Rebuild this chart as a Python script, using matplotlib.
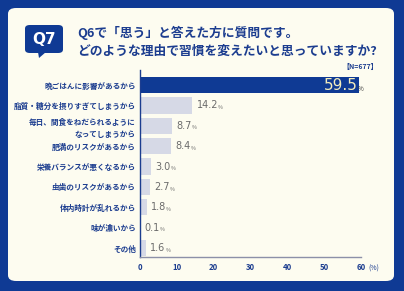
import matplotlib
matplotlib.use("Agg")
import matplotlib.pyplot as plt
from matplotlib.patches import FancyBboxPatch, Polygon
import numpy as np

plt.rcParams['font.family'] = ['Noto Sans CJK JP', 'DejaVu Sans']

categories = ['晩ごはんに影響があるから', '脂質・糖分を摂りすぎてしまうから',
              '毎日、間食をねだられるように\nなってしまうから', '肥満のリスクがあるから',
              '栄養バランスが悪くなるから', '虫歯のリスクがあるから',
              '体内時計が乱れるから', '味が濃いから', 'その他']
values = [59.5, 14.2, 8.7, 8.4, 3.0, 2.7, 1.8, 0.1, 1.6]
xticks = [0, 10, 20, 30, 40, 50, 60]

navy = '#0f3a94'
cream = '#fdfcf0'
text_blue = '#1c3d8f'
grey_bar = '#d6d9e6'
grey_txt = '#6b6b6b'

W, H = 404, 291
fig = plt.figure(figsize=(W / 100, H / 100), dpi=100)
fig.patch.set_facecolor(navy)

# cream card
card = FancyBboxPatch((8 / W, 1 - 281 / H), (394 - 8) / W, (281 - 8) / H,
                      boxstyle='round,pad=0,rounding_size=0.02',
                      transform=fig.transFigure, facecolor=cream, edgecolor='none', zorder=-5)
fig.patches.append(card)

# Q7 badge
badge = FancyBboxPatch((25 / W, 1 - 53 / H), 38 / W, 28 / H,
                       boxstyle='round,pad=0,rounding_size=0.012',
                       transform=fig.transFigure, facecolor=navy, edgecolor='none', zorder=-4)
fig.patches.append(badge)
tail = Polygon([(38 / W, 1 - 52 / H), (46 / W, 1 - 52 / H), (39 / W, 1 - 58 / H)],
               closed=True, transform=fig.transFigure, facecolor=navy, edgecolor='none', zorder=-4)
fig.patches.append(tail)
fig.text(44 / W, 1 - 39 / H, 'Q7', color='white', fontsize=11, fontweight='bold',
         ha='center', va='center', family=['DejaVu Sans'])

fig.text(77 / W, 1 - 33 / H, 'Q6で「思う」と答えた方に質問です。', color=text_blue,
         fontsize=9.2, fontweight='bold', ha='left', va='center')
fig.text(77 / W, 1 - 51 / H, 'どのような理由で習慣を変えたいと思っていますか?', color=text_blue,
         fontsize=9.2, fontweight='bold', ha='left', va='center')
fig.text(378 / W, 1 - 66 / H, '【N=677】', color=text_blue, fontsize=5,
         fontweight='bold', ha='right', va='center')

ax = fig.add_axes([140 / W, 1 - 257 / H, (361 - 140) / W, (257 - 70) / H])
ax.set_facecolor('none')
y = np.arange(len(values))
colors = [navy] + [grey_bar] * (len(values) - 1)
ax.barh(y, values, height=0.8, color=colors, zorder=2)

ax.set_xlim(0, 60)
ax.set_ylim(8.44, -0.74)
ax.set_yticks(y)
ax.set_yticklabels(categories, fontsize=5.5, fontweight='bold', color=text_blue,
                   multialignment='right', linespacing=1.4)
ax.set_xticks(xticks)
ax.set_xticklabels([str(t) for t in xticks], fontsize=5.6, color=text_blue, fontweight='bold')
ax.tick_params(axis='both', length=0, pad=3)
ax.tick_params(axis='x', pad=4)
for s in ['top', 'right']:
    ax.spines[s].set_visible(False)
ax.spines['left'].set_color(text_blue)
ax.spines['left'].set_linewidth(1.0)
ax.spines['bottom'].set_color('#8c90a8')
ax.spines['bottom'].set_linewidth(1.0)

ax.annotate('(%)', xy=(60, 0), xycoords=('data', 'axes fraction'), xytext=(5, -8),
            textcoords='offset points', fontsize=5, color=text_blue, ha='left', va='center')

# value labels
fig.canvas.draw()
renderer = fig.canvas.get_renderer()
for i, v in enumerate(values):
    if i == 0:
        t = ax.annotate(f'{v:.1f}', xy=(v, i), xytext=(-1, 0), textcoords='offset points',
                        fontsize=11, color='#f3ecbd', ha='right', va='center', zorder=3,
                        family=['DejaVu Sans'])
        ax.annotate('%', xy=(v, i), xytext=(-1, -3), textcoords='offset points',
                    fontsize=4.5, color='#3a3a3a', ha='left', va='center', zorder=3)
        continue
    t = ax.annotate(f'{v:.1f}', xy=(v, i), xytext=(3, 0), textcoords='offset points',
                    fontsize=7, color=grey_txt, ha='left', va='center', zorder=3,
                    family=['DejaVu Sans'])
    bb = t.get_window_extent(renderer)
    xd, _ = ax.transData.inverted().transform((bb.x1, 0))
    ax.annotate('%', xy=(xd, i), xytext=(0, -1.5), textcoords='offset points',
                fontsize=3.8, color=grey_txt, ha='left', va='center', zorder=3)

fig.savefig('out.png', dpi=100, facecolor=fig.get_facecolor())
